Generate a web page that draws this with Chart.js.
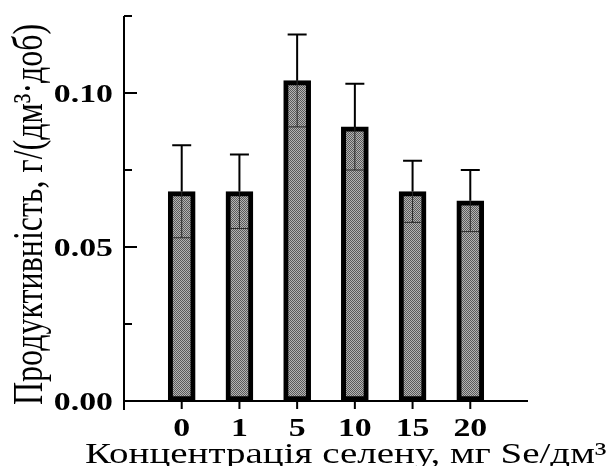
<!DOCTYPE html>
<html>
<head>
<meta charset="utf-8">
<script src="https://cdn.jsdelivr.net/npm/chart.js@4"></script>
<style>
  html, body { margin: 0; padding: 0; background: #fff; }
  #wrap { width: 611px; height: 466px; }
</style>
</head>
<body>
<div id="wrap"><canvas id="chart" width="611" height="466"></canvas></div>
<script>
// Data
const concentrations = ['0', '1', '5', '10', '15', '20'];
const productivity = [0.068, 0.068, 0.104, 0.089, 0.068, 0.065];
const errors = [0.015, 0.012, 0.015, 0.014, 0.010, 0.010];
const yTickLabels = { 0: '0.00', 0.05: '0.05', 0.1: '0.10' };

const xTitle = 'Концентрація селену, мг Se/дм³';
const yTitle = 'Продуктивність, г/(дм³·доб)';

// the original figure is stretched sideways
const stretch = 1.3;

// gray dithered fill like the original
function makePattern() {
    const c = document.createElement('canvas');
    c.width = 2; c.height = 2;
    const g = c.getContext('2d');
    g.fillStyle = '#b4b4b4'; g.fillRect(0, 0, 2, 2);
    g.fillStyle = '#5a5a5a'; g.fillRect(0, 0, 1, 1); g.fillRect(1, 1, 1, 1);
    return g.createPattern(c, 'repeat');
}

function stretchedText(ctx, text, x, y) {
    ctx.save();
    ctx.translate(x, y);
    ctx.scale(stretch, 1);
    ctx.fillText(text, 0, 0);
    ctx.restore();
}

// axes ticks, error bars and titles
const decorPlugin = {
    id: 'decor',
    afterDatasetsDraw(chart) {
        const ctx = chart.ctx;
        const meta = chart.getDatasetMeta(0);
        const y = chart.scales.y;
        ctx.save();
        meta.data.forEach((bar, i) => {
            const v = productivity[i], e = errors[i];
            const xc = bar.x;
            const top = y.getPixelForValue(v);
            const hi = y.getPixelForValue(v + e);
            const lo = y.getPixelForValue(v - e);
            // upper whisker
            ctx.strokeStyle = '#000';
            ctx.lineWidth = 2;
            ctx.beginPath();
            ctx.moveTo(xc, top); ctx.lineTo(xc, hi);
            ctx.moveTo(xc - 9.5, hi); ctx.lineTo(xc + 9.5, hi);
            ctx.stroke();
            // lower whisker inside the bar
            ctx.strokeStyle = '#2a2a2a';
            ctx.lineWidth = 1;
            ctx.beginPath();
            ctx.moveTo(xc, top); ctx.lineTo(xc, lo);
            ctx.moveTo(xc - 9, lo); ctx.lineTo(xc + 9, lo);
            ctx.stroke();
        });
        ctx.restore();
    },
    afterDraw(chart) {
        const ctx = chart.ctx;
        const x = chart.scales.x;
        const y = chart.scales.y;
        const a = chart.chartArea;
        ctx.save();
        ctx.strokeStyle = '#000';
        ctx.lineWidth = 2;
        ctx.beginPath();
        // y axis line, running a bit below zero
        ctx.moveTo(a.left, a.top); ctx.lineTo(a.left, a.bottom + 9);
        // x axis line
        ctx.moveTo(a.left, a.bottom); ctx.lineTo(a.right, a.bottom);
        // y ticks pointing inward
        for (let t = 0; t <= 0.1251; t += 0.025) {
            const py = Math.round(y.getPixelForValue(t));
            const major = Math.abs(t / 0.05 - Math.round(t / 0.05)) < 1e-6;
            ctx.moveTo(a.left, py); ctx.lineTo(a.left + (major ? 13 : 8), py);
        }
        // x ticks pointing outward
        concentrations.forEach((c, i) => {
            const px = x.getPixelForValue(i);
            ctx.moveTo(px, a.bottom); ctx.lineTo(px, a.bottom + 8);
        });
        ctx.stroke();

        ctx.fillStyle = '#000';
        ctx.font = 'bold 26px "Liberation Serif"';
        ctx.textAlign = 'right';
        ctx.textBaseline = 'alphabetic';
        Object.keys(yTickLabels).forEach(k => {
            stretchedText(ctx, yTickLabels[k], a.left - 11, y.getPixelForValue(+k) + 9);
        });
        ctx.textAlign = 'center';
        concentrations.forEach((c, i) => {
            stretchedText(ctx, c, x.getPixelForValue(i), 436);
        });

        ctx.font = '30px "Liberation Serif"';
        ctx.textAlign = 'left';
        stretchedText(ctx, xTitle, 85, 463);

        // rotated y title, glyph height stretched sideways
        ctx.font = '32px "Liberation Serif"';
        ctx.translate(42, 405);
        ctx.scale(stretch, 1);
        ctx.rotate(-Math.PI / 2);
        ctx.fillText(yTitle, 0, 0);
        ctx.restore();
    }
};

new Chart(document.getElementById('chart'), {
    type: 'bar',
    data: {
        datasets: [{
            data: productivity.map((v, i) => ({ x: i, y: v })),
            backgroundColor: makePattern(),
            borderColor: '#000',
            borderWidth: 5,
            borderSkipped: false,
            barThickness: 27
        }]
    },
    options: {
        responsive: false,
        animation: false,
        layout: { padding: { left: 124, right: 83, top: 16, bottom: 65 } },
        plugins: { legend: { display: false }, tooltip: { enabled: false } },
        scales: {
            x: {
                type: 'linear',
                offset: false,
                min: -1,
                max: 6,
                display: false
            },
            y: {
                min: 0,
                max: 0.125,
                display: false
            }
        }
    },
    plugins: [decorPlugin]
});
</script>
</body>
</html>
